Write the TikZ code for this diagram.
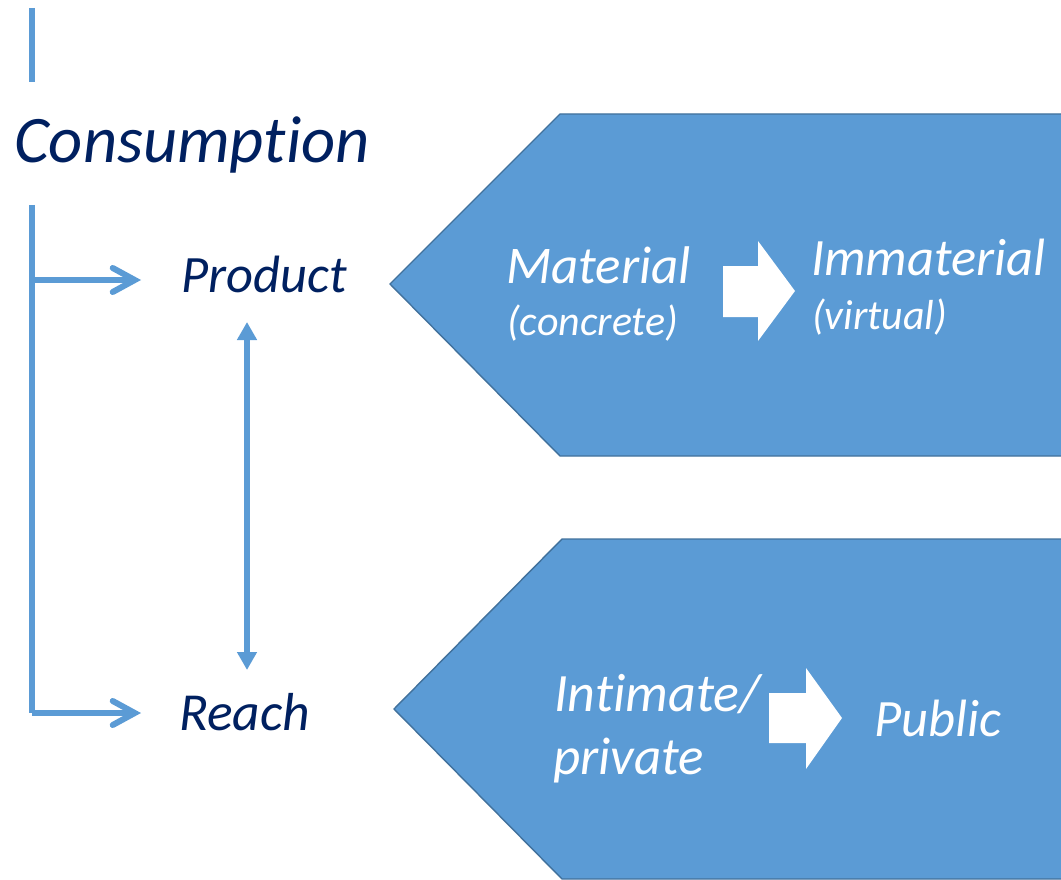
\documentclass[tikz,border=0pt]{standalone}
\usepackage{fontspec}
\setmainfont{Carlito}[Ligatures={NoCommon}]
\usetikzlibrary{arrows.meta}
\definecolor{lblue}{HTML}{5B9BD5}
\definecolor{dblue}{HTML}{41719C}
\definecolor{navy}{HTML}{002060}
\begin{document}
\begin{tikzpicture}[x=1pt,y=-1pt,
  conn/.style={draw=lblue,line width=6pt},
  barb/.style={conn,-{Straight Barb[length=22pt,width=24pt,line cap=round]}},
  dbl/.style={conn,line width=6pt,{Triangle[length=18pt,width=19pt]}-{Triangle[length=18pt,width=19pt]}},
  chev/.style={fill=lblue,draw=dblue,line width=1.4pt},
  navytxt/.style={inner sep=0pt,anchor=base west,text=navy,font=\itshape},
  whitetxt/.style={inner sep=0pt,anchor=base west,text=white,font=\itshape},
  wharrow/.style={fill=white,draw=none}]
\useasboundingbox (0,0) rectangle (1061,880);
% chevrons
\path[chev] (390,284) -- (560,114) -- (1063,114) -- (1063,456) -- (560,456) -- cycle;
\path[chev] (394,709) -- (562,539) -- (1063,539) -- (1063,879) -- (562,879) -- cycle;
% top line
\coordinate (t1) at (32,8);
\coordinate (t2) at (32,82);
\draw[conn] (t1) -- (t2);
\node[navytxt,font=\itshape\fontsize{66.5}{66}\selectfont] (cons) at (14,163) {Consumption};
\node[navytxt,font=\itshape\fontsize{52.5}{52}\selectfont] (prod) at (181,292) {Product};
\node[navytxt,font=\itshape\fontsize{53.5}{52}\selectfont] (reach) at (179,730) {Reach};
% branch
\coordinate (v1) at (32,205);
\coordinate (b1) at (32,280);
\coordinate (b2) at (32,713);
\coordinate (e1) at (141,280);
\coordinate (e2) at (141,713);
\draw[conn] (v1) -- (b2);
\draw[barb] (b1) -- (e1);
\draw[barb] (b2) -- (e2);
% double arrow
\coordinate (d1) at (247,322);
\coordinate (d2) at (247,670);
\draw[dbl] (d1) -- (d2);
% upper texts
\node[whitetxt,font=\itshape\fontsize{53}{52}\selectfont] (mat) at (506,283) {Material};
\node[whitetxt,font=\itshape\fontsize{42}{42}\selectfont] (conc) at (507,335) {(concrete)};
\node[whitetxt,font=\itshape\fontsize{52.5}{52}\selectfont] (imm) at (811,275) {Immaterial};
\node[whitetxt,font=\itshape\fontsize{42}{42}\selectfont] (virt) at (812,329) {(virtual)};
\path[wharrow] (723,266) -- (758,266) -- (758,241) -- (795,291) -- (758,341) -- (758,317) -- (723,317) -- cycle;
% lower texts
\node[whitetxt,font=\itshape\fontsize{54}{52}\selectfont] (inti) at (554,711) {Intimate/};
\node[whitetxt,font=\itshape\fontsize{53}{52}\selectfont] (priv) at (553,774) {private};
\node[whitetxt,font=\itshape\fontsize{52.5}{52}\selectfont] (pub) at (874,736) {Public};
\path[wharrow] (769,693) -- (806,693) -- (806,668) -- (842,718) -- (806,769) -- (806,743) -- (769,743) -- cycle;
\end{tikzpicture}
\end{document}
